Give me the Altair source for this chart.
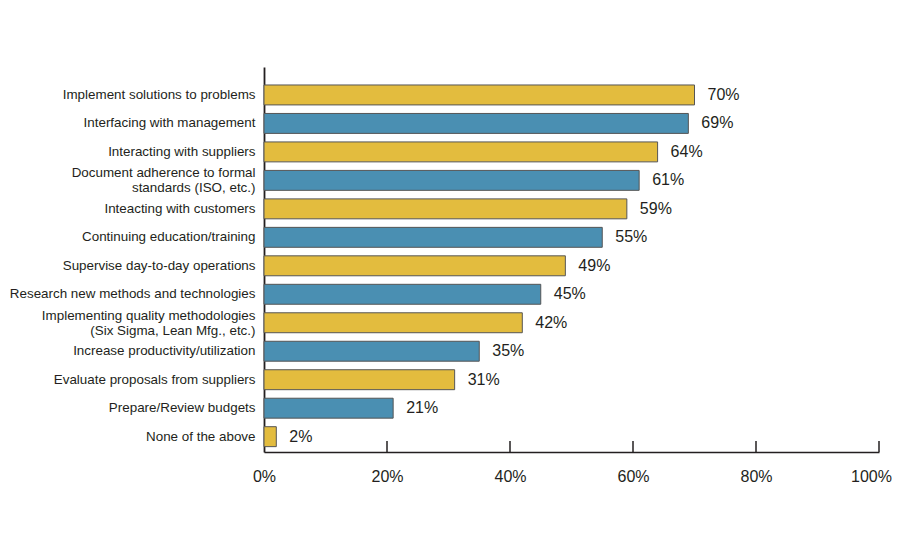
import altair as alt
import pandas as pd

categories = [
    "Implement solutions to problems",
    "Interfacing with management",
    "Interacting with suppliers",
    "Document adherence to formal|standards (ISO, etc.)",
    "Inteacting with customers",
    "Continuing education/training",
    "Supervise day-to-day operations",
    "Research new methods and technologies",
    "Implementing quality methodologies|(Six Sigma, Lean Mfg., etc.)",
    "Increase productivity/utilization",
    "Evaluate proposals from suppliers",
    "Prepare/Review budgets",
    "None of the above",
]
values = [70, 69, 64, 61, 59, 55, 49, 45, 42, 35, 31, 21, 2]
groups = ["gold", "blue"] * 6 + ["gold"]
tick_values = [0, 20, 40, 60, 80, 100]
inner_ticks = [20, 40, 60, 80, 100]

df = pd.DataFrame({
    "category": categories,
    "value": values,
    "group": groups,
    "label": [f"{v}%" for v in values],
})
ticks_df = pd.DataFrame({"t": inner_ticks})

W, H = 615, 385
TXT = "#231f20"
FONT = "Liberation Sans"

xscale = alt.Scale(domain=[0, 100], nice=False)
xaxis = alt.Axis(
    title=None,
    values=tick_values,
    labelExpr="datum.value + '%'",
    labelFlush=False,
    labelOffset={"expr": "datum.value == 100 ? -8 : 0"},
    ticks=False,
    grid=False,
    domainColor=TXT,
    domainWidth=1.5,
    labelPadding=16,
    labelFontSize=16,
    labelColor=TXT,
    labelFont=FONT,
)
yenc = alt.Y(
    "category:N",
    sort=categories,
    scale=alt.Scale(paddingInner=0.3, paddingOuter=0.41, align=0.77),
    axis=alt.Axis(
        title=None,
        labelExpr="split(datum.label, '|')",
        labelOffset={"expr": "indexof(datum.value, '|') >= 0 ? -7 : 0"},
        ticks=False,
        domainColor=TXT,
        domainWidth=1.8,
        labelPadding=9,
        labelFontSize=13.4,
        labelLineHeight=15,
        labelColor=TXT,
        labelFont=FONT,
        labelLimit=400,
    ),
)

bars = alt.Chart(df).mark_bar(stroke="#555555", strokeWidth=1).encode(
    x=alt.X("value:Q", scale=xscale, axis=xaxis),
    y=yenc,
    color=alt.Color(
        "group:N",
        scale=alt.Scale(domain=["gold", "blue"], range=["#E3BC3E", "#4A8FB2"]),
        legend=None,
    ),
)

text = alt.Chart(df).mark_text(
    align="left", baseline="middle", dx=13, fontSize=16, font=FONT, color=TXT
).encode(
    x=alt.X("value:Q", scale=xscale, axis=xaxis),
    y=alt.Y("category:N", sort=categories),
    text="label:N",
)

tick_rules = alt.Chart(ticks_df).mark_rule(color=TXT, strokeWidth=1.5).encode(
    x=alt.X("t:Q", scale=xscale, axis=xaxis),
    y=alt.value(H),
    y2=alt.value(H - 11),
)

chart = alt.layer(bars, text, tick_rules).properties(
    width=W,
    height=H,
    autosize=alt.AutoSizeParams(type="none"),
    padding={"left": 256, "top": 59, "right": 13, "bottom": 60},
    background="white",
).configure_view(stroke=None)

chart.save("out.html", embed_options={"renderer": "svg", "actions": False})
